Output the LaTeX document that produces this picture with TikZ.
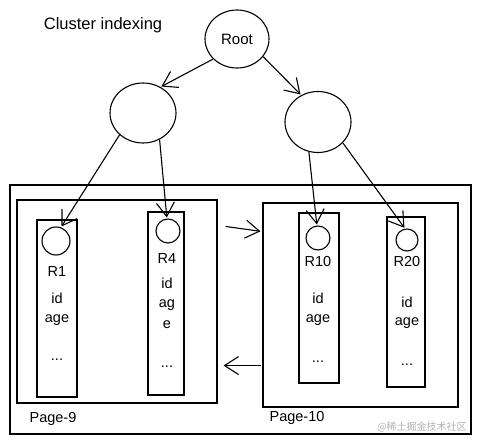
\documentclass[tikz,border=0pt]{standalone}
\usepackage{fontspec}
\setmainfont{Liberation Sans}
\newfontfamily\cjkfont{Noto Sans CJK SC}
\usetikzlibrary{arrows.meta,shapes.geometric}

\begin{document}
\begin{tikzpicture}[x=1pt, y=-1pt, line width=1.1pt,
    arr/.style={-{Straight Barb[length=14pt,width=18pt]}, shorten >=1pt},
    treenode/.style={draw, ellipse, minimum width=64pt, minimum height=58pt, font=\fontsize{15}{17}\selectfont},
    rowcol/.style={draw, rectangle, minimum width=40pt, inner sep=0pt},
    rowdot/.style={draw, circle, inner sep=0pt},
    lbl/.style={font=\fontsize{14.5}{16}\selectfont, inner sep=0pt}]
  \useasboundingbox (0,0) rectangle (480,444);

  % 木構造
  \node[font=\fontsize{16.5}{18}\selectfont] (title) at (103,25) {Cluster indexing};
  \node[treenode] (root) at (237,39) {Root};
  \node[treenode, minimum width=66pt, minimum height=60pt] (left) at (143,113) {};
  \node[treenode, minimum width=66pt, minimum height=61pt] (right) at (318,122) {};

  % ページ領域
  \draw (10,185) rectangle (471,434);
  \node[draw, minimum width=200pt, minimum height=203pt] (page9) at (117,301.5) {};
  \node[draw, minimum width=195pt, minimum height=204pt] (page10) at (360.5,305) {};
  \node[lbl] (p9) at (53,419) {Page-9};
  \node[lbl] (p10) at (297,418) {Page-10};

  % 行 R1
  \node[rowcol, minimum height=177pt] (col1) at (57,308.5) {};
  \node[rowdot, minimum size=28pt] (r1c) at (56,241) {};
  \node[lbl] at (57,272) {R1};
  \node[lbl] at (57,298) {id};
  \node[lbl] at (57,320) {age};
  \node[lbl] at (57,360) {...};

  % 行 R4
  \node[rowcol, minimum width=36pt, minimum height=183pt] (col4) at (166,303.5) {};
  \node[rowdot, minimum size=24pt] (r4c) at (168,231) {};
  \node[lbl] at (167,259) {R4};
  \node[lbl] at (167,283) {id};
  \node[lbl] at (167,305) {ag};
  \node[lbl] at (167,325) {e};
  \node[lbl] at (167,367) {...};

  % 行 R10
  \node[rowcol, minimum height=170pt] (col10) at (319,298) {};
  \node[rowdot, minimum size=24pt] (r10c) at (318,238) {};
  \node[lbl] at (318,262) {R10};
  \node[lbl] at (318,298) {id};
  \node[lbl] at (318,320) {age};
  \node[lbl] at (318,362) {...};

  % 行 R20
  \node[rowcol, minimum width=38pt, minimum height=170pt] (col20) at (406,302) {};
  \node[rowdot, minimum size=22pt] (r20c) at (407,240) {};
  \node[lbl] at (407,262) {R20};
  \node[lbl] at (407,302) {id};
  \node[lbl] at (407,323) {age};
  \node[lbl] at (407,365) {...};

  % 矢印
  \draw[arr] (root.220) -- (left.56);
  \draw[arr] (root.326) -- (right.122);
  \draw[arr] (left.223) -- (r1c.70);
  \draw[arr] (left.302) -- (r4c.95);
  \draw[arr] (right.253) -- (r10c.95);
  \draw[arr] (right.320) -- (r20c.100);
  \draw[arr] ([shift={(8,27)}]page9.north east) -- ([shift={(-1,29)}]page10.north west);
  \draw[arr] ([shift={(-1,-42)}]page10.south west) -- ([shift={(5,-38)}]page9.south east);

  \node[font=\cjkfont\fontsize{10}{12}\selectfont, text=gray!60] (mark) at (422,427) {@稀土掘金技术社区};
\end{tikzpicture}
\end{document}
